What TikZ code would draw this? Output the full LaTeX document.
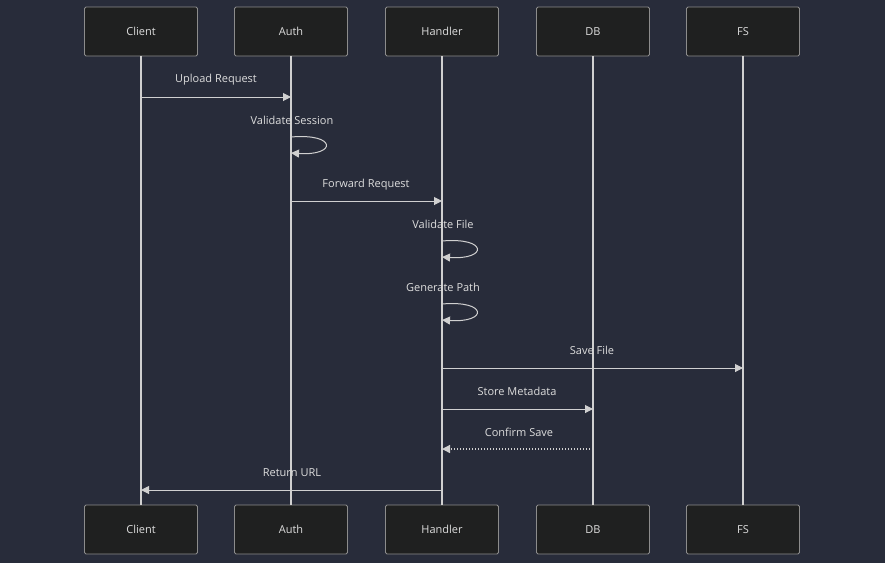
\documentclass[tikz,border=0pt]{standalone}
\usepackage{fontspec}
\setmainfont{Open Sans}
\usetikzlibrary{arrows.meta,calc}
\definecolor{bg}{HTML}{282C3A}
\definecolor{boxfill}{HTML}{1F2020}
\definecolor{boxline}{HTML}{8C8C8C}
\definecolor{ln}{HTML}{D0D0D0}
\definecolor{txt}{HTML}{DDDDDD}
\begin{document}
\begin{tikzpicture}[x=1pt,y=-1pt,
  actor/.style={draw=boxline,fill=boxfill,rounded corners=1.5pt,minimum width=113pt,minimum height=49pt,inner sep=0pt,text=txt,font=\fontsize{11}{13}\selectfont,line width=0.8pt},
  life/.style={draw=ln,line width=1.2pt},
  msg/.style={draw=ln,line width=1pt,-{Triangle[length=8pt,width=8pt]}},
  reply/.style={msg,dotted,line width=1.3pt},
  lbl/.style={text=txt,font=\fontsize{11}{13}\selectfont,inner sep=0pt}]
\fill[bg] (0,0) rectangle (885,563);
\useasboundingbox (0,0) rectangle (885,563);
\foreach \n/\x/\t in {C/141/Client,A/291/Auth,H/442/Handler,D/593/DB,F/743/FS}{
  \node[actor] (\n t) at (\x,31.5) {\t};
  \node[actor] (\n b) at (\x,529.5) {\t};
  \draw[life] (\n t.south) -- (\n b.north);
}
% y-levels
\foreach \k/\y in {1/97,2/137,3/201,4/241,5/304,6/368,7/409,8/449,9/490}{\coordinate (y\k) at (0,\y);}
% Upload Request
\draw[msg] (Ct |- y1) -- (At |- y1);
\node[lbl] at (216,79.5) {Upload Request};
% Validate Session
\node[lbl] at (292,120.5) {Validate Session};
\coordinate (s2) at ($(At |- y2)+(0,16)$);
\draw[msg] (At |- y2) .. controls +(46,-4) and +(46,3) .. (s2);
% Forward Request
\draw[msg] (At |- y3) -- (Ht |- y3);
\node[lbl] at (366,184.5) {Forward Request};
% Validate File
\node[lbl] at (443,224.5) {Validate File};
\coordinate (s4) at ($(Ht |- y4)+(0,16)$);
\draw[msg] (Ht |- y4) .. controls +(46,-4) and +(46,3) .. (s4);
% Generate Path
\node[lbl] at (443,287.5) {Generate Path};
\coordinate (s5) at ($(Ht |- y5)+(0,16)$);
\draw[msg] (Ht |- y5) .. controls +(46,-4) and +(46,3) .. (s5);
% Save File
\draw[msg] (Ht |- y6) -- (Ft |- y6);
\node[lbl] at (592,350.5) {Save File};
% Store Metadata
\draw[msg] (Ht |- y7) -- (Dt |- y7);
\node[lbl] at (517,391.5) {Store Metadata};
% Confirm Save
\draw[reply] (Dt |- y8) -- (Ht |- y8);
\node[lbl] at (519,432.5) {Confirm Save};
% Return URL
\draw[msg] (Ht |- y9) -- (Ct |- y9);
\node[lbl] at (292,472.5) {Return URL};
\end{tikzpicture}
\end{document}
